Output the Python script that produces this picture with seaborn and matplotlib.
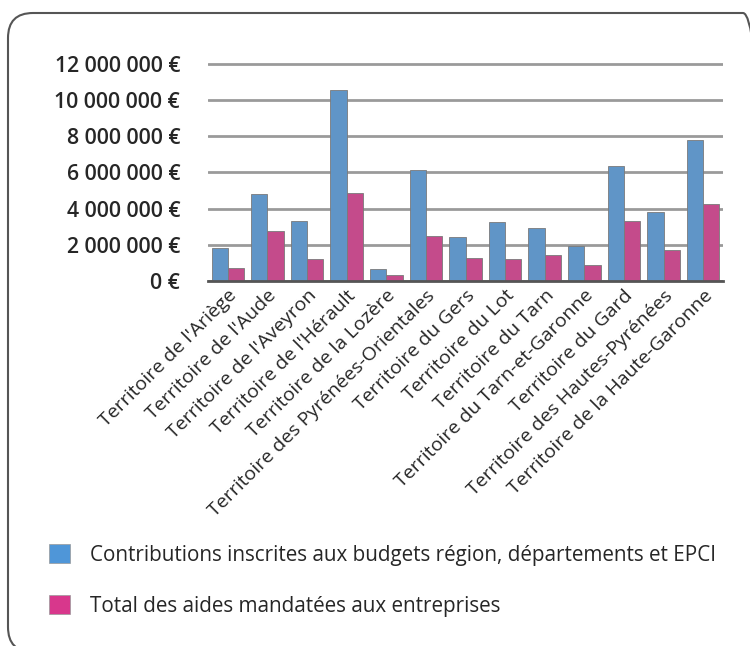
import pandas as pd
import seaborn as sns
import matplotlib.pyplot as plt
from matplotlib.patches import FancyBboxPatch
from matplotlib.ticker import FuncFormatter

territoires = [
    "Territoire de l'Ariège", "Territoire de l'Aude", "Territoire de l'Aveyron",
    "Territoire de l'Hérault", "Territoire de la Lozère",
    "Territoire des Pyrénées-Orientales", "Territoire du Gers", "Territoire du Lot",
    "Territoire du Tarn", "Territoire du Tarn-et-Garonne", "Territoire du Gard",
    "Territoire des Hautes-Pyrénées", "Territoire de la Haute-Garonne",
]
contributions = [1.80e6, 4.80e6, 3.34e6, 10.55e6, 0.68e6, 6.13e6, 2.42e6,
                 3.27e6, 2.94e6, 1.93e6, 6.38e6, 3.82e6, 7.80e6]
aides = [0.73e6, 2.75e6, 1.19e6, 4.86e6, 0.31e6, 2.46e6, 1.28e6,
         1.23e6, 1.41e6, 0.86e6, 3.32e6, 1.71e6, 4.24e6]
series = ["Contributions inscrites aux budgets région, départements et EPCI",
          "Total des aides mandatées aux entreprises"]
couleurs = ['#4f96d8', '#d8378c']

df = pd.DataFrame({
    'territoire': territoires * 2,
    'valeur': contributions + aides,
    'serie': [series[0]] * len(territoires) + [series[1]] * len(territoires),
})

sns.set_style('white')
plt.rcParams['font.family'] = ['Open Sans', 'DejaVu Sans']

fig = plt.figure(figsize=(7.5, 6.46), dpi=100)
ax = fig.add_axes([208 / 750, 1 - 281 / 646, 515 / 750, 219 / 646])

sns.barplot(data=df, x='territoire', y='valeur', hue='serie', ax=ax,
            palette=couleurs, width=0.82, edgecolor='#7a7a7a',
            linewidth=0.6, legend=False)

ax.set_ylim(0, 12.1e6)
ax.set_yticks(range(0, 12000001, 2000000))
ax.yaxis.set_major_formatter(FuncFormatter(lambda v, p: f'{int(v):,} €'.replace(',', ' ')))
ax.yaxis.grid(True, color='#9a9a9a', linewidth=2)
ax.set_axisbelow(True)
for s in ['top', 'right', 'left']:
    ax.spines[s].set_visible(False)
ax.spines['bottom'].set_color('#555555')
ax.spines['bottom'].set_linewidth(2)
ax.tick_params(axis='y', length=0, pad=20, labelsize=15.3)
ax.tick_params(axis='x', length=0, pad=4, labelsize=14)
for lbl in ax.get_yticklabels():
    lbl.set_fontweight('semibold')
plt.setp(ax.get_xticklabels(), rotation=45, ha='right', rotation_mode='anchor')
ax.set_xlabel('')
ax.set_ylabel('')

# legend in the lower part of the frame
handles = [plt.Rectangle((0, 0), 1, 1, fc=c, ec='#999999', lw=0.5) for c in couleurs]
fig.legend(handles, series, loc='upper left', bbox_to_anchor=(30 / 750, 1 - 525 / 646),
           frameon=False, fontsize=14.9, handlelength=1.05, handleheight=1.1,
           labelspacing=1.4, handletextpad=0.95)

# frame, cut off on the right and bottom
border = FancyBboxPatch((0.08, -0.06), 7.6, 6.39,
                        boxstyle='round,pad=0,rounding_size=0.25',
                        transform=fig.dpi_scale_trans, fc='none', ec='#555555', lw=1.5)
fig.patches.append(border)

fig.savefig('out.png', dpi=100)
